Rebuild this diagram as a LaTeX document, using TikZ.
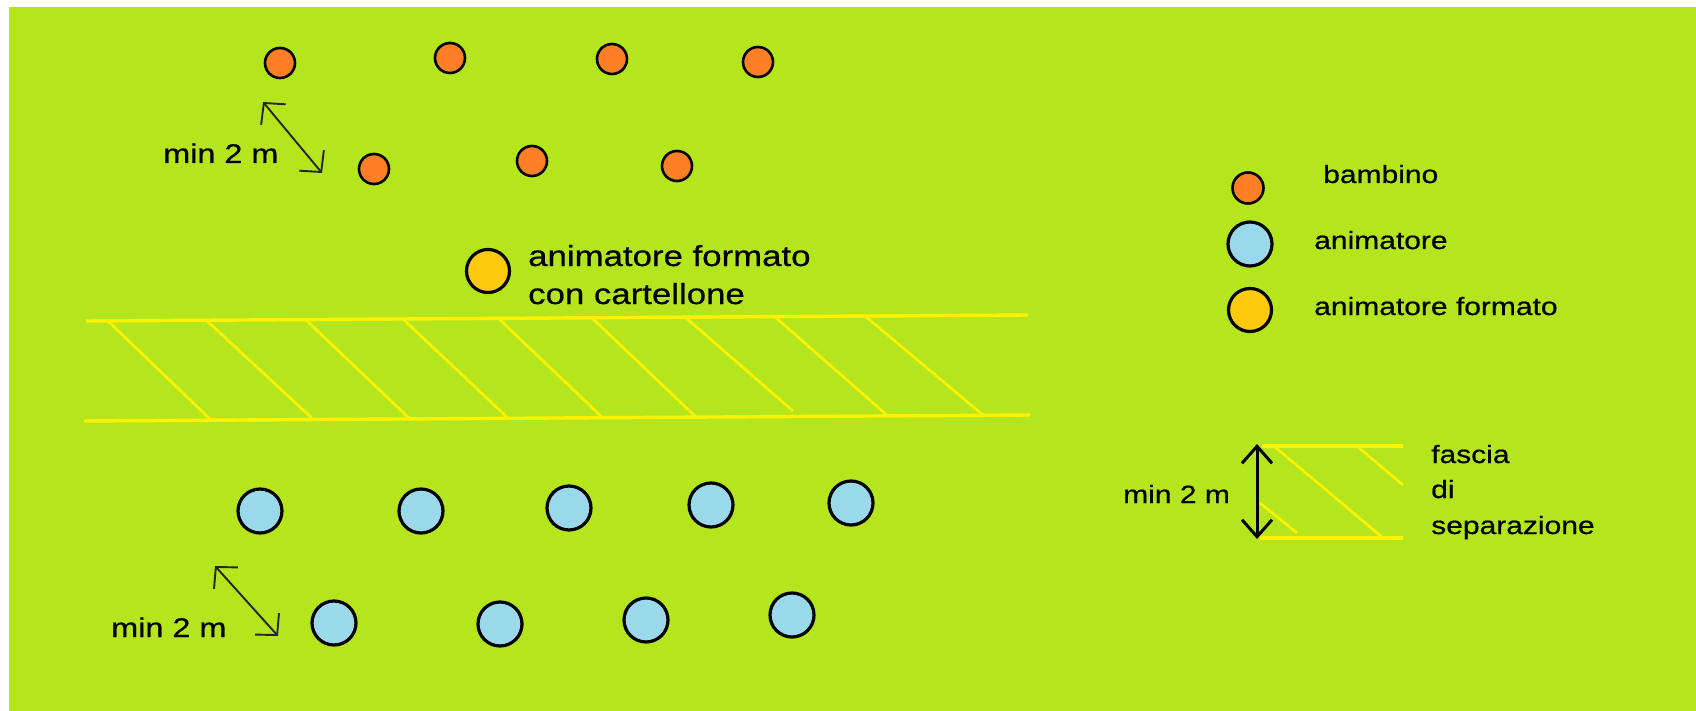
\documentclass[tikz,border=0pt]{standalone}
\usepackage{fontspec}
\setmainfont{Liberation Sans}
\newfontfamily\lbl[FakeStretch=1.2,FakeBold=0.6]{Liberation Sans}
\usetikzlibrary{arrows.meta}
\definecolor{bgC}{HTML}{B5E61D}
\definecolor{orangeC}{HTML}{FF7F27}
\definecolor{blueC}{HTML}{99D9EA}
\definecolor{goldC}{HTML}{FFC90E}
\definecolor{yelC}{HTML}{FFF200}
\tikzset{
  kid/.style={circle, draw=black, line width=2.6pt, fill=orangeC, minimum size=30pt, inner sep=0pt},
  anim/.style={circle, draw=black, line width=3.2pt, fill=blueC, minimum size=44pt, inner sep=0pt},
  animf/.style={circle, draw=black, line width=3.2pt, fill=goldC, minimum size=43pt, inner sep=0pt},
  txt/.style={anchor=base west, inner sep=0pt, text=black},
  dist/.style={line width=1.9pt, draw=black!85, {Straight Barb[length=15pt,width=32pt]}-{Straight Barb[length=15pt,width=32pt]}},
  distL/.style={line width=3pt, draw=black, {Straight Barb[length=17pt,width=30pt]}-{Straight Barb[length=17pt,width=30pt]}},
  band/.style={draw=yelC, line width=3.4pt},
  hatch/.style={draw=yelC, line width=2.6pt}
}
\begin{document}
\begin{tikzpicture}[x=1pt,y=-1pt]
\useasboundingbox (0,0) rectangle (1696,711);
\fill[white] (0,0) rectangle (1696,711);
\fill[bgC] (9,7) rectangle (1696,711);

% children
\node[kid] (k1) at (280,63) {};
\node[kid] (k2) at (450,58) {};
\node[kid] (k3) at (612,59) {};
\node[kid] (k4) at (758,62) {};
\node[kid] (k5) at (374,169) {};
\node[kid] (k6) at (532,161) {};
\node[kid] (k7) at (677,166) {};

% top distance
\coordinate (ta) at (263,102);
\coordinate (tb) at (322,173);
\draw[dist] (ta) -- (tb);
\node[txt, font=\lbl\fontsize{27}{32}\selectfont] (tmin) at (163,163) {min 2 m};

% trained animator with sign
\node[animf] (af) at (488,271) {};
\node[txt, font=\lbl\fontsize{29}{35}\selectfont] (afl1) at (528,266) {animatore formato};
\node[txt, font=\lbl\fontsize{29}{35}\selectfont] (afl2) at (528,304) {con cartellone};

% separation band
\draw[band] (86,321) -- (1028,315);
\draw[band] (84,421) -- (1030,415);
\draw[hatch] (108,321) -- (211,420);
\draw[hatch] (206,320) -- (314,420);
\draw[hatch] (306,320) -- (410,419);
\draw[hatch] (403,319) -- (509,419);
\draw[hatch] (498,318) -- (603,418);
\draw[hatch] (592,318) -- (696,417);
\draw[hatch] (685,317) -- (793,411);
\draw[hatch] (774,316) -- (888,416);
\draw[hatch] (865,316) -- (983,415);

% animators
\node[anim] (b1) at (260,511) {};
\node[anim] (b2) at (421,511) {};
\node[anim] (b3) at (569,508) {};
\node[anim] (b4) at (711,505) {};
\node[anim] (b5) at (851,503) {};
\node[anim] (b6) at (334,623) {};
\node[anim] (b7) at (500,624) {};
\node[anim] (b8) at (646,620) {};
\node[anim] (b9) at (792,615) {};

% bottom distance
\coordinate (ba) at (215,566);
\coordinate (bb) at (278,636);
\draw[dist] (ba) -- (bb);
\node[txt, font=\lbl\fontsize{27}{32}\selectfont] (bmin) at (111,637) {min 2 m};

% legend
\node[kid, minimum size=31pt] (lk) at (1248,188) {};
\node[txt, font=\lbl\fontsize{25}{30}\selectfont] (lkt) at (1323,183) {bambino};
\node[anim] (lb) at (1250,244) {};
\node[txt, font=\lbl\fontsize{25}{30}\selectfont] (lbt) at (1314,249) {animatore};
\node[animf] (lf) at (1250,310) {};
\node[txt, font=\lbl\fontsize{25}{30}\selectfont] (lft) at (1314,315) {animatore formato};

% legend band
\draw[band] (1262,446) -- (1403,446);
\draw[band] (1260,538) -- (1403,538);
\draw[hatch] (1275,447) -- (1382,537);
\draw[hatch] (1358,447) -- (1403,485);
\draw[hatch] (1260,503) -- (1297,533);
\coordinate (la) at (1257,444);
\coordinate (lb2) at (1257,539);
\draw[distL] (la) -- (lb2);
\node[txt, font=\lbl\fontsize{25}{30}\selectfont] (lmin) at (1123,503) {min 2 m};
\node[txt, font=\lbl\fontsize{25}{30}\selectfont] (f1) at (1431,463) {fascia};
\node[txt, font=\lbl\fontsize{25}{30}\selectfont] (f2) at (1431,498) {di};
\node[txt, font=\lbl\fontsize{25}{30}\selectfont] (f3) at (1431,534) {separazione};
\end{tikzpicture}
\end{document}
